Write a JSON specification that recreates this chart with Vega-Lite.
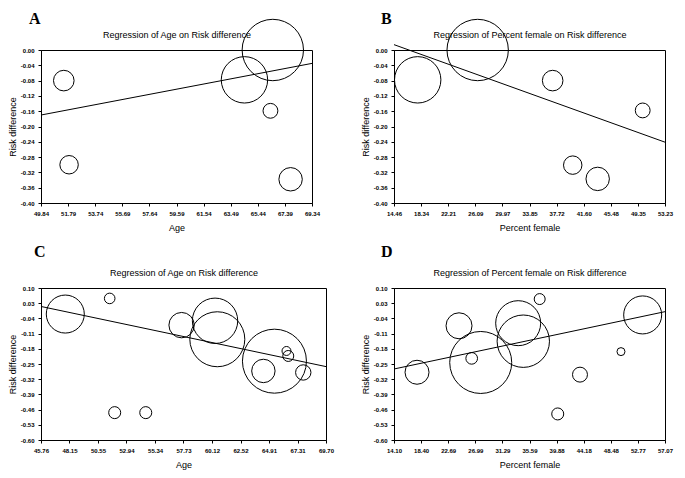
{
  "$schema": "https://vega.github.io/schema/vega-lite/v6.json",
  "padding": {"left": 7, "top": 10, "right": 5, "bottom": 5},
  "background": "white",
  "config": {
    "font": "Liberation Sans",
    "view": {"stroke": "black", "strokeWidth": 1},
    "axis": {"domainColor": "black", "tickColor": "black", "labelFont": "Liberation Sans", "labelFontSize": 6, "labelFontWeight": "bold", "labelColor": "black", "titleFont": "Liberation Sans", "titleFontSize": 9, "titleFontWeight": "normal", "titleColor": "black", "grid": false, "tickSize": 3, "labelPadding": 4, "labelFlush": false, "labelOverlap": false, "labelBound": false},
    "title": {"font": "Liberation Serif", "fontSize": 16, "fontWeight": "bold", "color": "black", "anchor": "start", "frame": "group"}
  },
  "columns": 2,
  "spacing": {"row": 85, "column": 68},
  "bounds": "flush",
  "concat": [
    {
      "title": {"text": "A", "dx": -12, "offset": -23, "baseline": "alphabetic"},
      "width": 271, "height": 153,
      "encoding": {
        "x": {"field": "age", "type": "quantitative", "scale": {"domain": [49.84, 69.34], "nice": false, "zero": false},
              "axis": {"title": "Age", "values": [49.84, 51.79, 53.74, 55.69, 57.64, 59.59, 61.54, 63.49, 65.44, 67.39, 69.34], "labelExpr": "replace(format(datum.value, '.2f'), '−', '-')", "titlePadding": 7}},
        "y": {"field": "rd", "type": "quantitative", "scale": {"domain": [-0.4, 0], "nice": false, "zero": false},
              "axis": {"title": "Risk difference", "values": [0, -0.04, -0.08, -0.12, -0.16, -0.2, -0.24, -0.28, -0.32, -0.36, -0.4], "labelExpr": "replace(format(datum.value, '.2f'), '−', '-')", "titlePadding": 3}}
      },
      "layer": [
        {
          "data": {"values": [
            {"age": 51.48, "rd": -0.080, "w": 106},
            {"age": 66.52, "rd": 0.000, "w": 942},
            {"age": 64.48, "rd": -0.078, "w": 538},
            {"age": 66.35, "rd": -0.159, "w": 55},
            {"age": 51.86, "rd": -0.300, "w": 85},
            {"age": 67.80, "rd": -0.338, "w": 137}
          ]},
          "mark": {"type": "point", "shape": "circle", "filled": false, "color": "black", "strokeWidth": 1, "opacity": 1, "clip": false},
          "encoding": {"size": {"field": "w", "type": "quantitative", "scale": {"domain": [0, 100], "range": [0, 400]}, "legend": null}}
        },
        {
          "data": {"values": [{"age": 49.84, "rd": -0.170}, {"age": 69.34, "rd": -0.035}]},
          "mark": {"type": "line", "color": "black", "strokeWidth": 1},
          "encoding": {
            "x": {"field": "age", "type": "quantitative", "axis": {"orient": "top", "title": "Regression of Age on Risk difference", "labels": false, "ticks": false, "domain": false, "titlePadding": 11}}
          }
        }
      ],
      "resolve": {"axis": {"x": "independent"}}
    },
    {
      "title": {"text": "B", "dx": -13, "offset": -23, "baseline": "alphabetic"},
      "width": 271, "height": 153,
      "encoding": {
        "x": {"field": "pct", "type": "quantitative", "scale": {"domain": [14.46, 53.23], "nice": false, "zero": false},
              "axis": {"title": "Percent female", "values": [14.46, 18.34, 22.21, 26.09, 29.97, 33.85, 37.72, 41.60, 45.48, 49.35, 53.23], "labelExpr": "replace(format(datum.value, '.2f'), '−', '-')", "titlePadding": 7}},
        "y": {"field": "rd", "type": "quantitative", "scale": {"domain": [-0.4, 0], "nice": false, "zero": false},
              "axis": {"title": "Risk difference", "values": [0, -0.04, -0.08, -0.12, -0.16, -0.2, -0.24, -0.28, -0.32, -0.36, -0.4], "labelExpr": "replace(format(datum.value, '.2f'), '−', '-')", "titlePadding": 3}}
      },
      "layer": [
        {
          "data": {"values": [
            {"pct": 17.85, "rd": -0.078, "w": 538},
            {"pct": 26.43, "rd": 0.000, "w": 942},
            {"pct": 37.16, "rd": -0.080, "w": 106},
            {"pct": 50.04, "rd": -0.158, "w": 55},
            {"pct": 40.03, "rd": -0.301, "w": 85},
            {"pct": 43.60, "rd": -0.337, "w": 137}
          ]},
          "mark": {"type": "point", "shape": "circle", "filled": false, "color": "black", "strokeWidth": 1, "opacity": 1, "clip": false},
          "encoding": {"size": {"field": "w", "type": "quantitative", "scale": {"domain": [0, 100], "range": [0, 400]}, "legend": null}}
        },
        {
          "data": {"values": [{"pct": 14.46, "rd": 0.014}, {"pct": 53.23, "rd": -0.241}]},
          "mark": {"type": "line", "color": "black", "strokeWidth": 1},
          "encoding": {
            "x": {"field": "pct", "type": "quantitative", "axis": {"orient": "top", "title": "Regression of Percent female on Risk difference", "labels": false, "ticks": false, "domain": false, "titlePadding": 11}}
          }
        }
      ],
      "resolve": {"axis": {"x": "independent"}}
    },
    {
      "title": {"text": "C", "dx": -7, "offset": -5, "baseline": "alphabetic"},
      "width": 285, "height": 152,
      "encoding": {
        "x": {"field": "age", "type": "quantitative", "scale": {"domain": [45.76, 69.70], "nice": false, "zero": false},
              "axis": {"title": "Age", "values": [45.76, 48.15, 50.55, 52.94, 55.34, 57.73, 60.12, 62.52, 64.91, 67.31, 69.70], "labelExpr": "replace(format(datum.value, '.2f'), '−', '-')", "titlePadding": 7}},
        "y": {"field": "rd", "type": "quantitative", "scale": {"domain": [-0.6, 0.1], "nice": false, "zero": false},
              "axis": {"title": "Risk difference", "values": [0.10, 0.03, -0.04, -0.11, -0.18, -0.25, -0.32, -0.39, -0.46, -0.53, -0.60], "labelExpr": "replace(format(datum.value, '.2f'), '−', '-')", "titlePadding": 3}}
      },
      "layer": [
        {
          "data": {"values": [
            {"age": 47.80, "rd": -0.020, "w": 361},
            {"age": 51.53, "rd": 0.052, "w": 28},
            {"age": 57.57, "rd": -0.071, "w": 161},
            {"age": 60.38, "rd": -0.051, "w": 515},
            {"age": 60.57, "rd": -0.136, "w": 756},
            {"age": 65.37, "rd": -0.237, "w": 1024},
            {"age": 66.38, "rd": -0.190, "w": 20},
            {"age": 66.53, "rd": -0.213, "w": 30},
            {"age": 64.44, "rd": -0.282, "w": 137},
            {"age": 67.79, "rd": -0.289, "w": 59},
            {"age": 51.95, "rd": -0.474, "w": 36},
            {"age": 54.56, "rd": -0.474, "w": 36}
          ]},
          "mark": {"type": "point", "shape": "circle", "filled": false, "color": "black", "strokeWidth": 1, "opacity": 1, "clip": false},
          "encoding": {"size": {"field": "w", "type": "quantitative", "scale": {"domain": [0, 100], "range": [0, 400]}, "legend": null}}
        },
        {
          "data": {"values": [{"age": 45.76, "rd": 0.015}, {"age": 69.70, "rd": -0.262}]},
          "mark": {"type": "line", "color": "black", "strokeWidth": 1},
          "encoding": {
            "x": {"field": "age", "type": "quantitative", "axis": {"orient": "top", "title": "Regression of Age on Risk difference", "labels": false, "ticks": false, "domain": false, "titlePadding": 11}}
          }
        }
      ],
      "resolve": {"axis": {"x": "independent"}}
    },
    {
      "title": {"text": "D", "dx": -13, "offset": -5, "baseline": "alphabetic"},
      "width": 271, "height": 152,
      "encoding": {
        "x": {"field": "pct", "type": "quantitative", "scale": {"domain": [14.10, 57.07], "nice": false, "zero": false},
              "axis": {"title": "Percent female", "values": [14.10, 18.40, 22.69, 26.99, 31.29, 35.59, 39.88, 44.18, 48.48, 52.77, 57.07], "labelExpr": "replace(format(datum.value, '.2f'), '−', '-')", "titlePadding": 7}},
        "y": {"field": "rd", "type": "quantitative", "scale": {"domain": [-0.6, 0.1], "nice": false, "zero": false},
              "axis": {"title": "Risk difference", "values": [0.10, 0.03, -0.04, -0.11, -0.18, -0.25, -0.32, -0.39, -0.46, -0.53, -0.60], "labelExpr": "replace(format(datum.value, '.2f'), '−', '-')", "titlePadding": 3}}
      },
      "layer": [
        {
          "data": {"values": [
            {"pct": 24.41, "rd": -0.074, "w": 169},
            {"pct": 37.20, "rd": 0.049, "w": 30},
            {"pct": 33.79, "rd": -0.062, "w": 506},
            {"pct": 34.60, "rd": -0.145, "w": 686},
            {"pct": 53.53, "rd": -0.024, "w": 361},
            {"pct": 50.09, "rd": -0.193, "w": 16},
            {"pct": 27.85, "rd": -0.243, "w": 961},
            {"pct": 26.42, "rd": -0.224, "w": 34},
            {"pct": 17.75, "rd": -0.288, "w": 144},
            {"pct": 43.59, "rd": -0.299, "w": 56},
            {"pct": 40.06, "rd": -0.480, "w": 36}
          ]},
          "mark": {"type": "point", "shape": "circle", "filled": false, "color": "black", "strokeWidth": 1, "opacity": 1, "clip": false},
          "encoding": {"size": {"field": "w", "type": "quantitative", "scale": {"domain": [0, 100], "range": [0, 400]}, "legend": null}}
        },
        {
          "data": {"values": [{"pct": 14.10, "rd": -0.273}, {"pct": 57.07, "rd": -0.009}]},
          "mark": {"type": "line", "color": "black", "strokeWidth": 1},
          "encoding": {
            "x": {"field": "pct", "type": "quantitative", "axis": {"orient": "top", "title": "Regression of Percent female on Risk difference", "labels": false, "ticks": false, "domain": false, "titlePadding": 11}}
          }
        }
      ],
      "resolve": {"axis": {"x": "independent"}}
    }
  ]
}
